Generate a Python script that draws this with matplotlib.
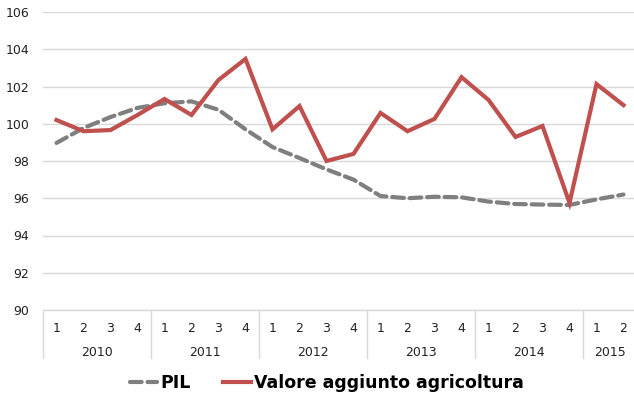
import matplotlib
matplotlib.use("Agg")
import matplotlib.pyplot as plt
from matplotlib.transforms import blended_transform_factory

years = ["2010", "2011", "2012", "2013", "2014", "2015"]
quarters_per_year = [4, 4, 4, 4, 4, 2]
quarter_labels = ["1", "2", "3", "4"] * 5 + ["1", "2"]

pil = [98.97, 99.77, 100.36, 100.85, 101.1, 101.2, 100.75, 99.7,
       98.75, 98.16, 97.55, 97.0, 96.12, 96.0, 96.08, 96.05,
       95.82, 95.69, 95.66, 95.64, 95.94, 96.2]
agri = [100.2, 99.6, 99.66, 100.47, 101.33, 100.47, 102.35, 103.48,
        99.7, 100.95, 98.0, 98.38, 100.58, 99.6, 100.26, 102.5,
        101.28, 99.29, 99.88, 95.75, 102.13, 101.0]

yticks = [90, 92, 94, 96, 98, 100, 102, 104, 106]

W, H = 634, 408
fig = plt.figure(figsize=(W / 100, H / 100), dpi=100)
left, right, top, bottom = 43, 637, 12, 310
ax = fig.add_axes([left / W, 1 - bottom / H, (right - left) / W, (bottom - top) / H])

x = list(range(len(pil)))
ax.plot(x, pil, color="#7f7f7f", lw=3.0, dashes=(2.8, 1.4), solid_capstyle="round",
        dash_capstyle="round", label="PIL", zorder=3)
ax.plot(x, agri, color="#c0504d", lw=3.0, solid_joinstyle="miter", label="Valore aggiunto agricoltura", zorder=4)

ax.set_xlim(-0.5, len(pil) - 0.5)
ax.set_ylim(90, 106)
ax.set_yticks(yticks)
ax.set_yticklabels([str(v) for v in yticks], fontsize=9, color="#222222")
ax.tick_params(axis="y", length=0, pad=10)
ax.tick_params(axis="x", length=0, labelbottom=False)
ax.grid(axis="y", color="#d9d9d9", lw=1.0)
for s in ["top", "right", "left"]:
    ax.spines[s].set_visible(False)
ax.spines["bottom"].set_color("#d9d9d9")
ax.spines["bottom"].set_linewidth(1.0)

trans = blended_transform_factory(ax.transData, ax.transAxes)
ph = bottom - top
q_y = -(328 - bottom) / ph
y_y = -(352 - bottom) / ph
sep_bottom = -(358 - bottom) / ph

for i, q in enumerate(quarter_labels):
    ax.text(i, q_y, q, transform=trans, ha="center", va="center", fontsize=9, color="#222222")

start = 0
for yr, n in zip(years, quarters_per_year):
    ax.plot([start - 0.5, start - 0.5], [0, sep_bottom], transform=trans, color="#d9d9d9",
            lw=1.0, clip_on=False)
    ax.text(start + (n - 1) / 2, y_y, yr, transform=trans, ha="center", va="center",
            fontsize=9, color="#222222")
    start += n
ax.plot([start - 0.5, start - 0.5], [0, sep_bottom], transform=trans, color="#d9d9d9",
        lw=1.0, clip_on=False)

leg = fig.legend(loc="center", bbox_to_anchor=(0.515, 1 - 383 / H), ncol=2, frameon=False,
                 prop={"weight": "bold", "size": 12.5}, handlelength=1.6, handletextpad=0.15,
                 columnspacing=1.9)

fig.savefig("out.png", dpi=100)
